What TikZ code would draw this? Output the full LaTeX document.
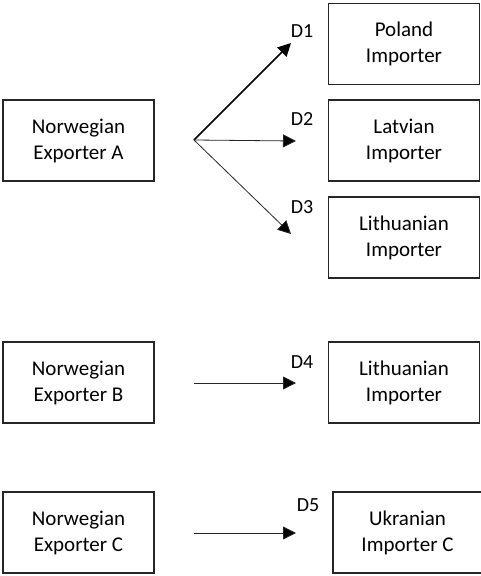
\documentclass[tikz,border=0pt]{standalone}
\usepackage{fontspec}
\setmainfont{Carlito}
\usetikzlibrary{arrows.meta}
\begin{document}
\begin{tikzpicture}[x=1pt,y=-1pt,
  party/.style={draw=black!85,line width=1.3pt,minimum width=151pt,minimum height=81pt,
    align=center,font=\fontsize{21}{26}\selectfont,inner sep=0pt},
  flow/.style={-{Triangle[length=13pt,width=13pt,fill=black]},black!85},
  tag/.style={font=\fontsize{20}{24}\selectfont,inner sep=0pt}]
\useasboundingbox (0,0) rectangle (481,576);
% exporters
\node[party] (expA) at (78.5,140.5) {Norwegian\\Exporter A};
\node[party] (expB) at (78.5,382.5) {Norwegian\\Exporter B};
\node[party] (expC) at (78.5,532.5) {Norwegian\\Exporter C};
% importers
\node[party] (pol) at (404,44) {Poland\\Importer};
\node[party] (lat) at (404,140.5) {Latvian\\Importer};
\node[party] (lit) at (404,237.5) {Lithuanian\\Importer};
\node[party] (litB) at (404,382.5) {Lithuanian\\Importer};
\node[party,minimum width=149pt] (ukr) at (407.5,532.5) {Ukranian\\Importer C};
% flow end points
\coordinate (hub) at (194,140);
\coordinate (d1end) at (291,43);
\coordinate (d2end) at (296,141);
\coordinate (d3end) at (291,234);
\coordinate (bstart) at (194,383);
\coordinate (bend) at (296,383);
\coordinate (cstart) at (194,533);
\coordinate (cend) at (296,533);
% flows
\draw[flow,line width=1.5pt,draw=black] (hub) -- (d1end);
\draw[flow,line width=0.8pt] (hub) -- (d2end);
\draw[flow,line width=0.8pt] (hub) -- (d3end);
\draw[flow,line width=0.8pt] (bstart) -- (bend);
\draw[flow,line width=0.8pt] (cstart) -- (cend);
% labels
\node[tag] (t1) at (302,31) {D1};
\node[tag] (t2) at (302,119) {D2};
\node[tag] (t3) at (302,207) {D3};
\node[tag] (t4) at (302,362) {D4};
\node[tag] (t5) at (308,505) {D5};
\end{tikzpicture}
\end{document}
